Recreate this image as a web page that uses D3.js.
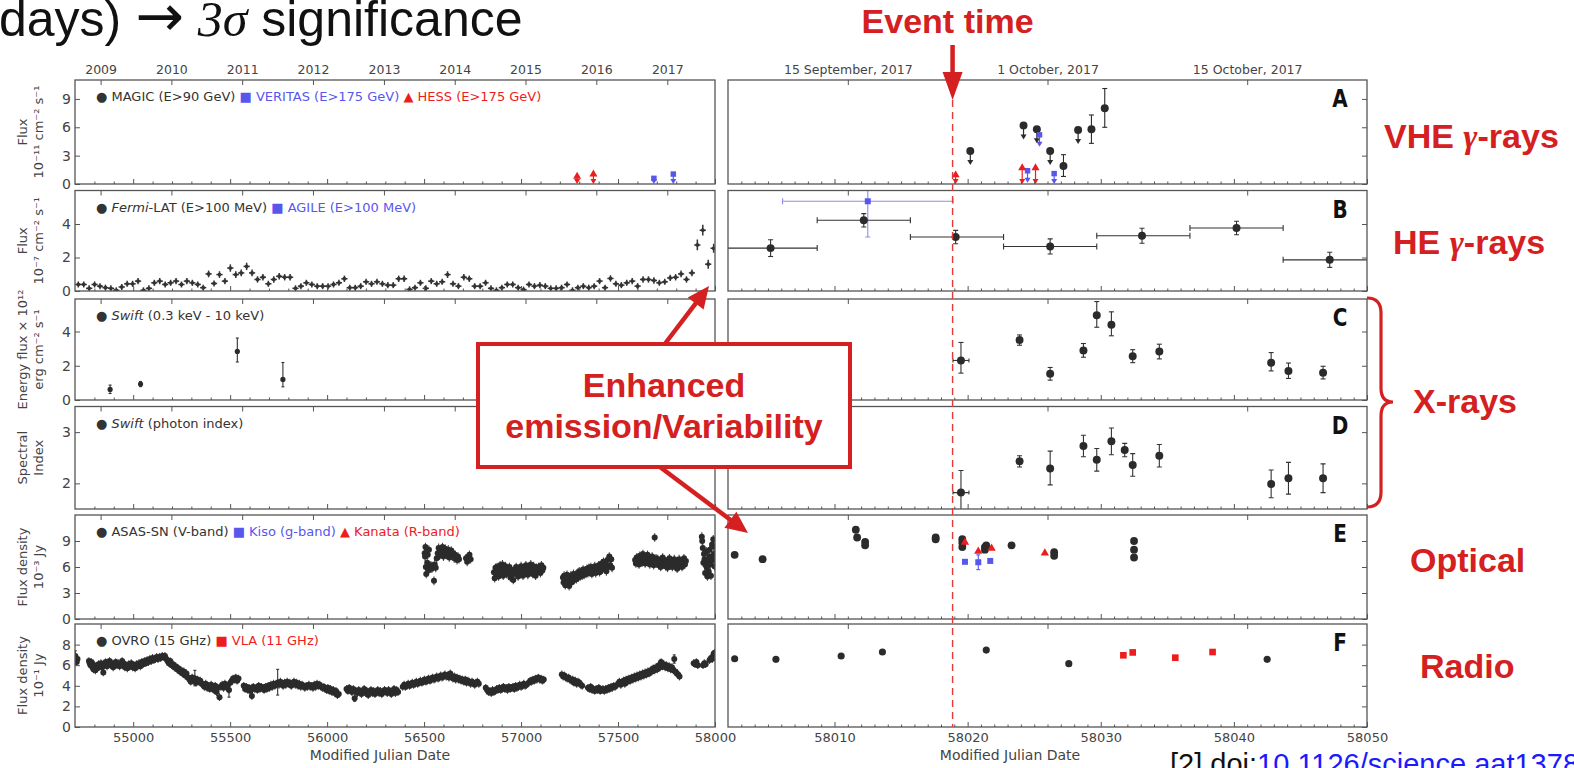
<!DOCTYPE html>
<html>
<head>
<meta charset="utf-8">
<style>
  body { margin: 0; background: #fff; }
  svg { display: block; font-family: "DejaVu Sans", sans-serif; }
</style>
</head>
<body>
<script src="https://cdnjs.cloudflare.com/ajax/libs/d3/7.8.5/d3.min.js"></script>
<script>
// ---------- tick labels / axis values ----------
const yearLabels = ["2009","2010","2011","2012","2013","2014","2015","2016","2017"];
const yearMjd = [54832,55197,55562,55927,56293,56658,57023,57388,57754];
const dateLabels = ["15 September, 2017","1 October, 2017","15 October, 2017"];
const dateMjd = [58011,58026,58041];
const leftMajor = [55000,55500,56000,56500,57000,57500,58000];
const rightMajor = [58010,58020,58030,58040,58050];
const eventMjd = 58018.87;

// ---------- A: VHE gamma rays ----------
// [mjd, flux]  upper limits
const magicUL = [[58020.2,3.5],[58024.2,6.2],[58025.2,5.8],[58026.2,3.5],[58028.3,5.7]];
// [mjd, flux, lo, hi]
const magicPts = [[58027.2,1.9,0.8,3.1],[58029.3,5.8,4.3,7.3],[58030.3,8.0,6.0,10.1]];
const veritasUL = [[57685,0.6],[57785,1.05],[58024.5,1.4],[58025.4,5.2],[58026.5,1.1]];
const hessUL = [[57289,0.8],[57373,1.05],[58019.1,0.95],[58024.1,1.7],[58025.1,1.7]];

// ---------- B: HE gamma rays ----------
const fermiMonthMjd = [54717,54745,54773,54801,54829,54857,54885,54913,54941,54969,
  54997,55025,55053,55081,55109,55137,55165,55193,55221,55249,
  55277,55305,55333,55361,55389,55417,55445,55473,55501,55529,
  55557,55585,55613,55641,55669,55697,55725,55753,55781,55809,
  55837,55865,55893,55921,55949,55977,56005,56033,56061,56089,
  56117,56145,56173,56201,56229,56257,56285,56313,56341,56369,
  56397,56425,56453,56481,56509,56537,56565,56593,56621,56649,
  56677,56705,56733,56761,56789,56817,56845,56873,56901,56929,
  56957,56985,57013,57041,57069,57097,57125,57153,57181,57209,
  57237,57265,57293,57321,57349,57377,57405,57433,57461,57489,
  57517,57545,57573,57601,57629,57657,57685,57713,57741,57769,
  57797,57825,57853,57881,57909,57937,57965,57993];
const fermiMonthFlux = [0.39,0.39,0.16,0.39,0.29,0.2,0.16,0.04,0.24,0.43,
  0.43,0.59,0.04,0.16,0.49,0.59,0.39,0.49,0.59,0.39,
  0.59,0.49,0.39,0.2,1.02,0.45,0.98,0.59,1.37,0.98,
  1.08,1.47,1.08,0.69,0.82,0.43,0.69,0.88,0.82,0.82,
  0.16,0.29,0.49,0.39,0.29,0.29,0.29,0.39,0.49,0.73,
  0.2,0.2,0.29,0.55,0.43,0.55,0.43,0.35,0.35,0.73,
  0.73,0.1,0.2,0.49,0.16,0.59,0.43,0.55,0.98,0.43,
  0.29,0.82,0.73,0.29,0.29,0.49,0.16,0.04,0.2,0.39,
  0.39,0.2,0.08,0.39,0.29,0.35,0.29,0.16,0.16,0.2,
  0.39,0.04,0.2,0.29,0.2,0.29,0.59,0.2,0.75,0.43,
  0.35,0.49,0.59,0.29,0.69,0.69,0.63,0.49,0.55,0.78,
  0.82,1.02,0.69,1.08,2.75,3.63,1.6,2.55];
const fermiMonthErr = [0.18,0.18,0.18,0.18,0.18,0.18,0.18,0.18,0.18,0.18,
  0.18,0.18,0.18,0.18,0.18,0.18,0.18,0.18,0.18,0.18,
  0.18,0.18,0.18,0.18,0.2,0.18,0.2,0.18,0.22,0.2,
  0.2,0.22,0.2,0.19,0.19,0.18,0.19,0.19,0.19,0.19,
  0.18,0.18,0.18,0.18,0.18,0.18,0.18,0.18,0.18,0.19,
  0.18,0.18,0.18,0.18,0.18,0.18,0.18,0.18,0.18,0.19,
  0.19,0.18,0.18,0.18,0.18,0.18,0.18,0.18,0.2,0.18,
  0.18,0.19,0.19,0.18,0.18,0.18,0.18,0.18,0.18,0.18,
  0.18,0.18,0.18,0.18,0.18,0.18,0.18,0.18,0.18,0.18,
  0.18,0.18,0.18,0.18,0.18,0.18,0.18,0.18,0.19,0.18,
  0.18,0.18,0.18,0.18,0.19,0.19,0.19,0.18,0.18,0.19,
  0.19,0.2,0.19,0.2,0.32,0.32,0.27,0.27];
// [mjd, flux, binStart, binEnd, err]
const fermiWeek = [[58005.2,2.56,58001.7,58008.7,0.5],[58012.2,4.22,58008.7,58015.7,0.4],
  [58019.1,3.22,58015.7,58022.7,0.4],[58026.2,2.66,58022.7,58029.7,0.45],
  [58033.1,3.3,58029.7,58036.7,0.45],[58040.2,3.76,58036.7,58043.7,0.4],
  [58047.2,1.86,58043.7,58050.7,0.45]];
// [mjd, flux, binStart, binEnd, lo, hi]
const agile = [[58012.5,5.36,58006.1,58018.9,3.22,7.5]];

// ---------- C, D: X-rays ----------
const swiftFluxLeft = [[54881,0.62,0.38,0.87],[55038,0.93,0.78,1.08],[55537,2.84,2.22,3.62],[55772,1.2,0.77,2.19]];
const swiftFluxRight = [[58019.5,2.31,1.57,3.36],[58023.9,3.5,3.2,3.8],[58026.2,1.53,1.16,1.9],
  [58028.7,2.89,2.5,3.3],[58029.7,4.95,4.25,5.75],[58030.8,4.39,3.75,5.15],[58032.4,2.56,2.18,2.94],
  [58034.4,2.83,2.4,3.26],[58042.8,2.17,1.7,2.77],[58044.1,1.69,1.26,2.16],[58046.7,1.59,1.23,1.97]];
const swiftIndex = [[58019.5,1.82,1.49,2.25],[58023.9,2.43,2.32,2.54],[58026.2,2.29,1.97,2.63],
  [58028.7,2.73,2.52,2.94],[58029.7,2.46,2.24,2.68],[58030.8,2.82,2.56,3.08],[58031.8,2.65,2.52,2.78],
  [58032.4,2.36,2.14,2.58],[58034.4,2.54,2.32,2.76],[58042.8,1.99,1.72,2.26],[58044.1,2.1,1.79,2.41],
  [58046.7,2.1,1.82,2.38]];

// ---------- E: optical ----------
const asasSeason1 = [[56503,7.6],[56505,7.2],[56507,8.3],[56509,6.0],[56511,5.2],[56513,7.8],[56516,6.5],[56519,7.4],
  [56522,5.6],[56525,8.0],[56530,5.9],[56535,6.2],[56540,5.8],[56545,6.1],[56551,4.4],[56555,6.3],[56560,5.9],
  [56565,7.0],[56570,7.6],[56575,8.2],[56580,7.3],[56585,7.9],[56590,7.5],[56595,8.3],[56600,7.2],[56605,7.8],
  [56610,8.1],[56615,7.4],[56620,7.7],[56625,8.0],[56630,7.1],[56635,7.6],[56640,7.9],[56645,7.3],[56650,7.6],
  [56655,7.0],[56660,7.4],[56665,7.1],[56670,6.8],[56675,7.2],[56680,6.9],[56716,7.0],[56722,6.6],[56728,7.2],
  [56734,7.4],[56740,6.9]];
const asasSeason2 = [[56860,5.4],[56864,4.7],[56868,5.9],[56872,5.2],[56876,6.0],[56880,5.5],[56884,4.9],[56888,5.8],
  [56892,6.2],[56896,5.3],[56900,5.7],[56904,6.3],[56908,5.0],[56912,5.9],[56916,5.5],[56920,6.1],[56925,5.2],
  [56930,5.8],[56935,5.4],[56940,6.0],[56945,4.8],[56950,5.6],[56955,5.1],[56960,4.5],[56965,5.7],[56970,5.3],
  [56975,6.0],[56980,5.5],[56985,4.9],[56990,5.8],[56995,5.2],[57000,6.1],[57005,5.6],[57010,5.0],[57015,5.9],
  [57020,5.4],[57025,6.2],[57030,5.7],[57035,5.1],[57040,6.0],[57045,5.5],[57050,6.3],[57055,5.8],[57060,5.2],
  [57065,6.1],[57070,5.6],[57075,5.0],[57080,5.9],[57085,5.4],[57090,6.0],[57095,5.7],[57100,5.3],[57105,6.2],
  [57110,5.6],[57115,5.9]];
const asasSeason3 = [[57216,4.8],[57219,4.2],[57222,5.0],[57225,4.5],[57228,3.9],[57231,4.7],[57234,4.3],[57237,5.1],
  [57240,4.1],[57244,4.6],[57248,3.8],[57252,4.4],[57256,5.0],[57260,4.2],[57265,4.7],[57270,5.2],[57275,4.5],
  [57280,5.0],[57285,4.6],[57290,5.3],[57295,4.8],[57300,5.5],[57305,4.9],[57310,5.4],[57315,5.0],[57320,5.7],
  [57325,5.1],[57330,5.6],[57335,5.2],[57340,5.8],[57345,5.3],[57350,5.9],[57355,5.4],[57360,6.0],[57365,5.2],
  [57370,5.8],[57375,5.5],[57380,6.1],[57385,5.3],[57390,5.9],[57395,5.6],[57400,6.2],[57405,5.4],[57410,6.0],
  [57415,6.4],[57420,5.7],[57425,6.6],[57430,5.8],[57435,6.3],[57440,5.5],[57445,6.8],[57450,6.0],[57455,7.2],
  [57460,6.2],[57465,6.9],[57469,5.9]];
const asasSeason4 = [[57588,6.8],[57592,6.4],[57596,7.1],[57600,6.6],[57604,6.9],[57608,6.3],[57612,7.3],[57616,6.7],
  [57620,7.0],[57624,6.5],[57628,7.5],[57632,6.8],[57636,7.2],[57640,6.4],[57644,7.0],[57648,6.7],[57652,7.4],
  [57656,6.6],[57660,7.1],[57664,6.3],[57668,6.9],[57672,6.5],[57676,7.2],[57680,6.8],[57684,6.2],[57689,9.4],
  [57692,6.7],[57696,7.0],[57700,6.4],[57705,6.9],[57710,6.2],[57715,6.7],[57720,6.0],[57725,6.6],[57730,7.1],
  [57735,6.3],[57740,6.8],[57745,6.1],[57750,6.6],[57755,5.9],[57760,6.5],[57765,7.0],[57770,6.2],[57775,6.7],
  [57780,6.0],[57785,6.5],[57790,6.9],[57795,6.1],[57800,6.6],[57805,5.8],[57810,6.4],[57815,6.9],[57820,6.2],
  [57825,6.6],[57830,6.0],[57835,6.5],[57840,7.0],[57845,6.3],[57850,6.7]];
const asasSeason5 = [[57932,9.5],[57934,9.0],[57937,8.2],[57940,6.5],[57943,7.5],[57946,6.9],[57949,5.3],[57952,6.2],
  [57955,7.8],[57958,5.9],[57961,4.9],[57964,6.6],[57967,5.5],[57970,7.2],[57973,8.0],[57976,6.3],[57979,5.0],
  [57982,7.0],[57985,8.6],[57988,6.8],[57991,9.2],[57994,7.5],[57997,6.1],[57999,8.3]];
const asasRight = [[58002.5,7.4],[58004.6,6.9],[58011.6,10.3],[58011.7,9.4],[58012.3,8.9],[58012.3,8.5],
  [58017.6,9.4],[58017.6,9.2],[58019.6,9.2],[58019.6,8.8],[58019.6,8.3],[58021.3,8.3],[58021.3,8.0],
  [58021.4,8.5],[58023.3,8.5],[58026.5,7.7],[58026.5,7.3],[58032.5,9.0],[58032.5,8.0],[58032.5,7.1]];
const kanata = [[58019.8,8.85],[58020.8,7.8],[58021.8,8.15],[58025.8,7.6]];
const kiso = [[58019.8,6.6,6.4,6.8],[58020.8,6.55,5.7,7.4],[58021.7,6.7,6.5,6.9]];

// ---------- F: radio ----------
const ovro2008to2011 = [[54702,6.9],[54705,6.5],[54709,6.3],[54713,6.6],
  [54772,6.4],[54776,6.2],[54780,6.0],[54785,6.3],[54790,5.8],[54795,5.6],[54800,6.0],[54805,5.5],[54810,5.9],
  [54816,5.7],[54821,6.1],[54828,5.9],[54834,6.2],[54840,5.8],[54846,5.3],[54852,6.0],[54858,6.3],[54865,5.9],
  [54871,6.1],[54878,6.4],[54884,6.0],[54890,6.2],[54897,5.8],[54903,6.1],[54910,6.3],[54916,6.0],[54923,6.2],
  [54930,5.9],[54936,6.1],[54943,6.4],[54950,6.2],[54957,5.8],[54963,6.0],[54970,5.7],[54977,6.1],[54984,5.9],
  [54990,6.2],[54997,5.8],[55004,6.0],[55010,5.7],[55017,6.1],[55024,5.9],[55030,6.2],[55037,5.9],[55044,6.3],
  [55051,6.1],[55058,6.4],[55065,6.2],[55072,6.5],[55079,6.3],[55086,6.6],[55093,6.4],[55100,6.7],[55107,6.5],
  [55114,6.6],[55121,6.8],[55128,6.6],[55135,6.8],[55142,6.7],[55150,6.9],[55157,6.8],[55164,6.9],[55171,6.6],
  [55177,6.4],[55184,6.2],[55191,6.4],[55198,6.0],[55205,6.1],[55212,5.8],[55219,5.9],[55226,5.6],[55233,5.7],
  [55240,5.4],[55247,5.5],[55254,5.2],[55261,5.4],[55268,5.0],[55275,5.2],[55282,4.8],[55290,4.6],[55297,4.4],
  [55304,4.8],[55311,4.5],[55318,4.7],[55325,4.3],[55332,4.6],[55339,4.4],[55346,4.5],[55353,4.2],[55360,4.1],
  [55367,3.9],[55374,4.2],[55381,3.8],[55388,4.0],[55395,3.7],[55402,4.1],[55409,3.9],[55416,3.6],[55423,4.0],
  [55430,3.4],[55437,3.8],[55445,2.9],[55452,3.9],[55459,4.1],[55466,3.8],[55473,4.2],[55480,3.9],[55487,4.0],
  [55494,3.6],[55501,4.3],[55508,4.5],[55515,4.7],[55522,4.6],[55529,4.8],[55536,4.5],[55543,4.7],
  [55570,4.0],[55577,3.7],[55584,3.9],[55591,3.6],[55598,3.8],[55605,3.5],[55612,3.0],[55619,3.9],[55626,3.7],
  [55633,3.8],[55640,3.6],[55647,4.0],[55654,3.7],[55661,3.9],[55668,3.8],[55675,3.6],[55682,3.9],[55689,3.7],
  [55696,4.0],[55703,3.8],[55710,4.1],[55717,3.9],[55724,4.2],[55731,4.0],[55738,4.2],[55745,4.3],[55752,4.1],
  [55759,4.4],[55766,4.2],[55773,4.0],[55780,4.3],[55787,4.1],[55794,4.4],[55801,4.2],[55808,4.3],[55815,4.0],
  [55822,4.2],[55829,4.4],[55836,4.1],[55843,4.3],[55850,4.0],[55857,4.2],[55864,3.9],[55871,4.1],[55878,4.0],
  [55885,3.8],[55892,4.0],[55899,3.9],[55906,4.1],[55913,3.9],[55920,4.0]];
const ovro2012to2014 = [[55927,3.8],[55934,4.1],[55941,3.9],[55948,4.2],[55955,4.0],[55962,4.1],[55969,3.9],
  [55976,3.8],[55983,3.9],[55990,3.7],[55997,3.6],[56004,3.8],[56011,3.5],[56018,3.7],[56025,3.4],[56032,3.6],
  [56039,3.3],[56046,3.5],[56053,3.1],[56060,3.2],
  [56100,3.7],[56107,3.5],[56114,3.8],[56121,3.6],[56128,3.4],[56135,3.7],[56142,2.8],[56149,3.5],[56156,3.3],
  [56163,3.6],[56170,3.4],[56177,3.2],[56184,3.5],[56191,3.7],[56198,3.3],[56205,3.5],[56212,3.1],[56219,3.4],
  [56226,3.6],[56233,3.3],[56240,3.5],[56247,3.2],[56254,3.4],[56261,3.6],[56268,3.3],[56275,3.5],[56282,3.2],
  [56289,3.4],[56296,3.6],[56303,3.5],[56310,3.3],[56317,3.6],[56324,3.4],[56331,3.2],[56338,3.5],[56345,3.7],
  [56352,3.3],[56359,3.6],[56366,3.4],
  [56390,3.9],[56397,4.1],[56404,3.9],[56411,4.0],[56418,4.2],[56425,4.0],[56432,4.1],[56439,4.3],[56446,4.1],
  [56453,4.2],[56460,4.4],[56467,4.2],[56474,4.3],[56481,4.5],[56488,4.3],[56495,4.4],[56502,4.6],[56509,4.4],
  [56516,4.5],[56523,4.7],[56530,4.5],[56537,4.6],[56544,4.8],[56551,4.6],[56558,4.7],[56565,4.9],[56572,4.7],
  [56579,4.8],[56586,5.0],[56593,4.8],[56600,4.9],[56607,5.1],[56614,4.9],[56621,5.0],[56628,4.8],[56635,5.2],
  [56642,4.9],[56649,4.7],[56656,4.9],[56663,4.6],[56670,4.8],[56677,4.6],[56684,4.7],[56691,4.5],[56698,4.6],
  [56705,4.4],[56712,4.6],[56719,4.3],[56726,4.5],[56733,4.4],[56740,4.2],[56747,4.4],[56754,4.3],[56761,4.1],
  [56768,4.3],[56775,4.4],[56782,4.2]];
const ovro2015to2017 = [[56818,3.8],[56825,3.6],[56832,3.4],[56839,3.5],[56846,3.3],[56853,3.6],[56860,3.4],
  [56867,3.5],[56874,3.7],[56881,3.6],[56888,3.8],[56895,3.6],[56902,3.7],[56909,3.9],[56916,3.7],[56923,3.8],
  [56930,3.6],[56937,3.9],[56944,3.7],[56951,3.8],[56958,3.9],[56965,3.7],[56972,4.0],[56979,3.8],[56986,3.9],
  [56993,4.1],[57000,3.9],[57007,4.0],[57014,4.2],[57021,4.0],[57028,4.1],[57040,4.3],[57047,4.5],[57054,4.4],
  [57061,4.6],[57068,4.5],[57075,4.7],[57082,4.6],[57089,4.8],[57096,4.6],[57103,4.7],[57110,4.5],[57117,4.6],
  [57210,5.1],[57217,4.9],[57224,5.0],[57231,4.8],[57238,4.7],[57245,4.8],[57252,4.6],[57259,4.5],[57266,4.6],
  [57273,4.3],[57280,4.5],[57287,4.2],[57294,4.4],[57301,4.3],[57308,4.1],[57315,4.0],
  [57345,3.8],[57352,3.7],[57359,3.9],[57366,3.6],[57373,3.7],[57380,3.5],[57387,3.7],[57394,3.6],[57401,3.8],
  [57408,3.5],[57415,3.6],[57422,3.7],[57429,3.5],[57436,3.7],[57443,3.6],[57450,3.8],[57457,3.7],[57464,3.9],
  [57471,3.8],[57478,4.0],[57485,3.9],[57500,4.2],[57507,4.4],[57514,4.1],[57521,4.3],[57528,4.5],[57535,4.2],
  [57542,4.6],[57549,4.4],[57556,4.7],[57563,4.5],[57570,4.8],[57577,4.6],[57584,4.9],[57591,4.7],[57598,5.0],
  [57605,4.8],[57612,5.1],[57619,4.9],[57626,5.2],[57633,5.0],[57640,5.3],[57647,5.1],[57654,5.4],[57661,5.2],
  [57668,5.5],[57675,5.4],[57682,5.7],[57689,5.5],[57696,5.8],[57703,5.6],[57710,6.0],[57717,5.8],[57722,6.3],
  [57729,5.9],[57736,6.1],[57743,5.8],[57750,6.0],[57757,5.7],[57764,5.9],[57771,5.6],[57778,5.8],[57785,5.5],
  [57790,6.6],[57796,5.4],[57803,5.2],[57810,5.1],[57817,4.9],
  [57890,6.2],[57897,6.1],[57904,6.3],[57911,6.0],[57938,6.0],[57945,6.2],[57952,6.1],
  [57972,6.5],[57979,6.7],[57986,6.6],[57993,7.1],[57998,7.2]];
// [mjd, flux, lo, hi] larger OVRO error bars
const ovroBigErr = [[54702,6.9,6.3,7.4],[55318,4.7,4.0,5.5],[55494,3.6,2.9,4.3],[55745,4.3,3.1,5.6],
  [56142,2.8,2.5,3.3],[57790,6.6,6.2,7.0]];
const ovroRight = [[58002.5,6.63],[58005.6,6.57],[58010.5,6.89],[58013.6,7.28],[58021.4,7.47],[58027.6,6.15],[58042.5,6.57]];
const vla = [[58031.7,6.96],[58032.4,7.24],[58035.6,6.73],[58038.4,7.28]];

// ---------- layout ----------
const W = 1574, H = 768;
const BLACK = "#2b2b2b", BLUE = "#5757ee", RED = "#ee1c1c", ANN = "#d42020";
const svg = d3.select("body").append("svg").attr("width", W).attr("height", H);

const xL = d3.scaleLinear().domain([54700, 58000]).range([75, 715]);
const xR = d3.scaleLinear().domain([58002, 58050]).range([728, 1367]);

const panels = [
  {key: "A", top: 80, bottom: 184, dom: [0, 11], ticks: [0, 3, 6, 9], lab: ["Flux", "10\u207B\u00B9\u00B9 cm\u207B\u00B2 s\u207B\u00B9"]},
  {key: "B", top: 190.5, bottom: 291, dom: [0, 6], ticks: [0, 2, 4], lab: ["Flux", "10\u207B\u2077 cm\u207B\u00B2 s\u207B\u00B9"]},
  {key: "C", top: 299, bottom: 400, dom: [0, 5.9], ticks: [0, 2, 4], lab: ["Energy flux \u00D7 10\u00B9\u00B2", "erg cm\u207B\u00B2 s\u207B\u00B9"]},
  {key: "D", top: 406.5, bottom: 509, dom: [1.5, 3.5], ticks: [2, 3], lab: ["Spectral", "Index"]},
  {key: "E", top: 515, bottom: 619, dom: [0, 12], ticks: [0, 3, 6, 9], lab: ["Flux density", "10\u207B\u00B3 Jy"]},
  {key: "F", top: 624, bottom: 727, dom: [0, 10], ticks: [0, 2, 4, 6, 8], lab: ["Flux density", "10\u207B\u00B9 Jy"]}
];
panels.forEach(p => { p.y = d3.scaleLinear().domain(p.dom).range([p.bottom, p.top]); });
const P = Object.fromEntries(panels.map(p => [p.key, p]));

const defs = svg.append("defs");
const gPanels = svg.append("g");

function styleAxis(g, size) {
  g.select(".domain").remove();
  g.selectAll(".tick line").attr("stroke", "#555").attr("stroke-width", 1);
  g.selectAll(".tick text").attr("fill", "#444").attr("font-size", size || 12.5).attr("font-family", "DejaVu Sans");
}

// per panel layers (clipped data groups)
panels.forEach(p => {
  ["L", "R"].forEach(side => {
    const x0 = side === "L" ? 75 : 728, x1 = side === "L" ? 715 : 1367;
    defs.append("clipPath").attr("id", "clip" + p.key + side)
      .append("rect").attr("x", x0).attr("y", p.top).attr("width", x1 - x0).attr("height", p.bottom - p.top);
    p["g" + side] = gPanels.append("g").attr("clip-path", `url(#clip${p.key}${side})`);
  });
});

// ---------- drawing helpers ----------
function errV(g, x, y1, y2, color, cap, w) {
  g.append("line").attr("x1", x).attr("x2", x).attr("y1", y1).attr("y2", y2).attr("stroke", color).attr("stroke-width", w || 1.1);
  if (cap) {
    [y1, y2].forEach(yy => g.append("line").attr("x1", x - cap).attr("x2", x + cap).attr("y1", yy).attr("y2", yy)
      .attr("stroke", color).attr("stroke-width", 1.1));
  }
}
function errH(g, x1, x2, y, color, cap, w) {
  g.append("line").attr("x1", x1).attr("x2", x2).attr("y1", y).attr("y2", y).attr("stroke", color).attr("stroke-width", w || 1.1);
  if (cap) {
    [x1, x2].forEach(xx => g.append("line").attr("x1", xx).attr("x2", xx).attr("y1", y - cap).attr("y2", y + cap)
      .attr("stroke", color).attr("stroke-width", 1.1));
  }
}
function marker(g, type, x, y, size, color) {
  g.append("path").attr("d", d3.symbol().type(type).size(size)()).attr("transform", `translate(${x},${y})`).attr("fill", color);
}
function upperLimit(g, x, y, len, floor, color) {
  const end = Math.min(y + len, floor);
  g.append("line").attr("x1", x).attr("x2", x).attr("y1", y).attr("y2", end - 3).attr("stroke", color).attr("stroke-width", 1.2);
  g.append("path").attr("d", `M${x - 3},${end - 5}L${x + 3},${end - 5}L${x},${end}Z`).attr("fill", color);
}

// ---------- A ----------
(function () {
  const p = P.A;
  magicUL.forEach(d => { upperLimit(p.gR, xR(d[0]), p.y(d[1]), 14, p.bottom, BLACK); marker(p.gR, d3.symbolCircle, xR(d[0]), p.y(d[1]), 50, BLACK); });
  magicPts.forEach(d => { errV(p.gR, xR(d[0]), p.y(d[2]), p.y(d[3]), BLACK, 2.5); marker(p.gR, d3.symbolCircle, xR(d[0]), p.y(d[1]), 50, BLACK); });
  veritasUL.forEach(d => {
    const g = d[0] < 58000 ? p.gL : p.gR, x = (d[0] < 58000 ? xL : xR)(d[0]);
    upperLimit(g, x, p.y(d[1]), 12, p.bottom, BLUE); marker(g, d3.symbolSquare, x, p.y(d[1]), 30, BLUE);
  });
  hessUL.forEach(d => {
    const g = d[0] < 58000 ? p.gL : p.gR, x = (d[0] < 58000 ? xL : xR)(d[0]);
    upperLimit(g, x, p.y(d[1]), 30, p.bottom, RED); marker(g, d3.symbolTriangle, x, p.y(d[1]), 28, RED);
  });
})();

// ---------- B ----------
(function () {
  const p = P.B;
  fermiMonthMjd.forEach((t, i) => {
    const f = fermiMonthFlux[i], e = fermiMonthErr[i];
    errH(p.gL, xL(t - 16), xL(t + 16), p.y(f), "#333", 0, 1.5);
    errV(p.gL, xL(t), p.y(f - e), p.y(f + e), "#333", 0, 1.5);
    p.gL.append("circle").attr("cx", xL(t)).attr("cy", p.y(f)).attr("r", 1.9).attr("fill", "#333");
  });
  agile.forEach(d => {
    errH(p.gR, xR(d[2]), xR(d[3]), p.y(d[1]), "#8c8cf0", 3);
    errV(p.gR, xR(d[0]), p.y(d[4]), p.y(d[5]), "#8c8cf0", 2.5);
    marker(p.gR, d3.symbolSquare, xR(d[0]), p.y(d[1]), 36, BLUE);
  });
  fermiWeek.forEach(d => {
    errH(p.gR, xR(d[2]), xR(d[3]), p.y(d[1]), "#333", 3);
    errV(p.gR, xR(d[0]), p.y(d[1] - d[4]), p.y(d[1] + d[4]), "#333", 2.5);
    marker(p.gR, d3.symbolCircle, xR(d[0]), p.y(d[1]), 50, BLACK);
  });
})();

// ---------- C, D ----------
(function () {
  const p = P.C;
  swiftFluxLeft.forEach(d => { errV(p.gL, xL(d[0]), p.y(d[2]), p.y(d[3]), "#333", 1.5); p.gL.append("circle").attr("cx", xL(d[0])).attr("cy", p.y(d[1])).attr("r", 2.6).attr("fill", BLACK); });
  swiftFluxRight.forEach((d, i) => {
    if (i === 0) errH(p.gR, xR(d[0] - 0.6), xR(d[0] + 0.6), p.y(d[1]), "#333", 2);
    errV(p.gR, xR(d[0]), p.y(d[2]), p.y(d[3]), "#333", 2.5);
    marker(p.gR, d3.symbolCircle, xR(d[0]), p.y(d[1]), 50, BLACK);
  });
  const q = P.D;
  swiftIndex.forEach((d, i) => {
    if (i === 0) errH(q.gR, xR(d[0] - 0.6), xR(d[0] + 0.6), q.y(d[1]), "#333", 2);
    errV(q.gR, xR(d[0]), q.y(d[2]), q.y(d[3]), "#333", 2.5);
    marker(q.gR, d3.symbolCircle, xR(d[0]), q.y(d[1]), 50, BLACK);
  });
})();

// ---------- E ----------
(function () {
  const p = P.E;
  [asasSeason1, asasSeason2, asasSeason3, asasSeason4, asasSeason5].forEach(season => {
    season.forEach(d => errV(p.gL, xL(d[0]), p.y(d[1] - 0.5), p.y(d[1] + 0.5), "#444", 0));
    season.forEach(d => p.gL.append("circle").attr("cx", xL(d[0])).attr("cy", p.y(d[1])).attr("r", 3).attr("fill", BLACK));
  });
  asasRight.forEach(d => marker(p.gR, d3.symbolCircle, xR(d[0]), p.y(d[1]), 48, BLACK));
  kanata.forEach(d => marker(p.gR, d3.symbolTriangle, xR(d[0]), p.y(d[1]), 30, RED));
  kiso.forEach(d => { errV(p.gR, xR(d[0]), p.y(d[2]), p.y(d[3]), BLUE, 2); marker(p.gR, d3.symbolSquare, xR(d[0]), p.y(d[1]), 36, BLUE); });
})();

// ---------- F ----------
(function () {
  const p = P.F;
  ovroBigErr.forEach(d => errV(p.gL, xL(d[0]), p.y(d[2]), p.y(d[3]), "#333", 1.5));
  [ovro2008to2011, ovro2012to2014, ovro2015to2017].forEach(arr => {
    arr.forEach(d => errV(p.gL, xL(d[0]), p.y(d[1] - 0.38), p.y(d[1] + 0.38), "#444", 0));
    arr.forEach(d => p.gL.append("circle").attr("cx", xL(d[0])).attr("cy", p.y(d[1])).attr("r", 3).attr("fill", BLACK));
  });
  ovroRight.forEach(d => marker(p.gR, d3.symbolCircle, xR(d[0]), p.y(d[1]), 40, BLACK));
  vla.forEach(d => marker(p.gR, d3.symbolSquare, xR(d[0]), p.y(d[1]), 44, RED));
})();

// ---------- axes and frames ----------
const leftMinor = d3.range(54800, 58000, 100).filter(v => v % 500 !== 0);
const rightMinor = d3.range(58003, 58050, 1).filter(v => v % 10 !== 0);
panels.forEach(p => {
  const last = p.key === "F", first = p.key === "A";
  // left panel
  gPanels.append("g").attr("transform", `translate(0,${p.bottom})`)
    .call(d3.axisBottom(xL).tickValues(leftMinor).tickSize(-2.5).tickFormat("")).call(styleAxis);
  gPanels.append("g").attr("transform", `translate(0,${p.bottom})`)
    .call(d3.axisBottom(xL).tickValues(leftMajor).tickSize(-5).tickPadding(6).tickFormat(last ? d3.format("d") : ""))
    .call(g => styleAxis(g, 13));
  gPanels.append("g").attr("transform", `translate(0,${p.top})`)
    .call(d3.axisTop(xL).tickValues(yearMjd).tickSize(-5).tickPadding(6).tickFormat((d, i) => first ? yearLabels[i] : ""))
    .call(g => styleAxis(g, 12.5));
  gPanels.append("g").attr("transform", "translate(75,0)")
    .call(d3.axisLeft(p.y).tickValues(p.ticks).tickSize(-5).tickPadding(4).tickFormat(d3.format("d")))
    .call(g => styleAxis(g, 14));
  // right panel
  gPanels.append("g").attr("transform", `translate(0,${p.bottom})`)
    .call(d3.axisBottom(xR).tickValues(rightMinor).tickSize(-2.5).tickFormat("")).call(styleAxis);
  gPanels.append("g").attr("transform", `translate(0,${p.bottom})`)
    .call(d3.axisBottom(xR).tickValues(rightMajor).tickSize(-5).tickPadding(6).tickFormat(last ? d3.format("d") : ""))
    .call(g => styleAxis(g, 13));
  gPanels.append("g").attr("transform", `translate(0,${p.top})`)
    .call(d3.axisTop(xR).tickValues(dateMjd).tickSize(-5).tickPadding(6).tickFormat((d, i) => first ? dateLabels[i] : ""))
    .call(g => styleAxis(g, 12.5));
  gPanels.append("g").attr("transform", "translate(1367,0)")
    .call(d3.axisRight(p.y).tickValues(p.ticks).tickSize(-5).tickFormat("")).call(styleAxis);
  // frames
  [[75, 715], [728, 1367]].forEach(([a, b]) => gPanels.append("rect").attr("x", a).attr("y", p.top)
    .attr("width", b - a).attr("height", p.bottom - p.top).attr("fill", "none").attr("stroke", "#555").attr("stroke-width", 1.3));
  // y labels
  const mid = (p.top + p.bottom) / 2;
  p.lab.forEach((t, i) => svg.append("text").attr("transform", `translate(${27 + i * 16},${mid}) rotate(-90)`)
    .attr("text-anchor", "middle").attr("font-size", 13).attr("fill", "#444").text(t));
  // panel letter
  svg.append("text").attr("transform", `translate(1340,${p.top + 27}) scale(0.8,1)`).attr("text-anchor", "middle")
    .attr("font-size", 25).attr("font-weight", "bold").attr("fill", "#111").text(p.key);
});
[380, 1010].forEach(cx => svg.append("text").attr("x", cx).attr("y", 760).attr("text-anchor", "middle")
  .attr("font-size", 14).attr("fill", "#444").text("Modified Julian Date"));

// ---------- legends ----------
function legend(p, parts) {
  const t = svg.append("text").attr("x", 96).attr("y", p.top + 21).attr("font-size", 13);
  parts.forEach(([s, c, st]) => t.append("tspan").attr("fill", c).attr("font-style", st || "normal").text(s));
}
legend(P.A, [["\u25CF ", "#333"], ["MAGIC (E>90 GeV) ", "#333"], ["\u25A0 VERITAS (E>175 GeV) ", BLUE], ["\u25B2 HESS (E>175 GeV)", RED]]);
legend(P.B, [["\u25CF ", "#333"], ["Fermi", "#333", "italic"], ["-LAT (E>100 MeV) ", "#333"], ["\u25A0 AGILE (E>100 MeV)", BLUE]]);
legend(P.C, [["\u25CF ", "#333"], ["Swift", "#333", "italic"], [" (0.3 keV - 10 keV)", "#333"]]);
legend(P.D, [["\u25CF ", "#333"], ["Swift", "#333", "italic"], [" (photon index)", "#333"]]);
legend(P.E, [["\u25CF ASAS-SN (V-band) ", "#333"], ["\u25A0 Kiso (g-band) ", BLUE], ["\u25B2 Kanata (R-band)", RED]]);
legend(P.F, [["\u25CF OVRO (15 GHz) ", "#333"], ["\u25A0 VLA (11 GHz)", RED]]);

// ---------- annotations ----------
const ann = svg.append("g").attr("font-family", "Liberation Sans, Arial, sans-serif");
const ex = xR(eventMjd);
ann.append("line").attr("x1", ex).attr("x2", ex).attr("y1", 100).attr("y2", P.F.bottom)
  .attr("stroke", "#e23a3a").attr("stroke-width", 1.4).attr("stroke-dasharray", "7,5");

function arrow(x1, y1, x2, y2, hl, hw) {
  const dx = x2 - x1, dy = y2 - y1, L = Math.hypot(dx, dy), ux = dx / L, uy = dy / L;
  const bx = x2 - ux * hl, by = y2 - uy * hl;
  ann.append("line").attr("x1", x1).attr("y1", y1).attr("x2", bx + ux * 2).attr("y2", by + uy * 2)
    .attr("stroke", ANN).attr("stroke-width", 4.5);
  ann.append("path").attr("d", `M${x2},${y2}L${bx - uy * hw / 2},${by + ux * hw / 2}L${bx + uy * hw / 2},${by - ux * hw / 2}Z`).attr("fill", ANN);
}
arrow(ex, 45, ex, 100, 28, 20);
ann.append("text").attr("x", ex - 5).attr("y", 33).attr("text-anchor", "middle").attr("font-size", 34)
  .attr("font-weight", "bold").attr("fill", ANN).text("Event time");

arrow(664, 345, 709, 286, 22, 20);
arrow(660, 467, 748, 533, 22, 20);
ann.append("rect").attr("x", 478).attr("y", 344).attr("width", 372).attr("height", 123)
  .attr("fill", "#fff").attr("stroke", ANN).attr("stroke-width", 4);
ann.append("text").attr("x", 664).attr("y", 397).attr("text-anchor", "middle").attr("font-size", 34)
  .attr("font-weight", "bold").attr("fill", ANN).text("Enhanced");
ann.append("text").attr("x", 664).attr("y", 438).attr("text-anchor", "middle").attr("font-size", 34)
  .attr("font-weight", "bold").attr("fill", ANN).text("emission/Variability");

// band labels
[["VHE ", "\u03B3", "-rays", 1384, 148], ["HE ", "\u03B3", "-rays", 1393, 254], ["X-rays", "", "", 1413, 413],
 ["Optical", "", "", 1410, 572], ["Radio", "", "", 1420, 678]].forEach(([a, g, b, x, y]) => {
  const t = ann.append("text").attr("x", x).attr("y", y).attr("font-size", 34).attr("font-weight", "bold").attr("fill", ANN);
  t.append("tspan").text(a);
  if (g) { t.append("tspan").attr("font-style", "italic").attr("font-family", "Liberation Serif, serif").text(g); t.append("tspan").text(b); }
});
ann.append("path").attr("d", "M1367,298 Q1381,298 1381,313 L1381,388 Q1381,402 1393,402 Q1381,402 1381,416 L1381,492 Q1381,507 1367,507")
  .attr("fill", "none").attr("stroke", ANN).attr("stroke-width", 3.2);

// slide text fragments
const slideText = ann.append("text").attr("x", -1).attr("y", 36).attr("font-size", 50).attr("fill", "#111");
slideText.append("tspan").text("days) ");
slideText.append("tspan").attr("font-family", "DejaVu Sans").attr("font-size", 58).text("\u2192");
slideText.append("tspan").text(" ");
slideText.append("tspan").attr("font-family", "Liberation Serif, serif").attr("font-style", "italic").text("3\u03C3");
slideText.append("tspan").text(" significance");
const refText = ann.append("text").attr("x", 1170).attr("y", 774).attr("font-size", 29).attr("fill", "#111");
refText.append("tspan").text("[2] doi:");
refText.append("tspan").attr("fill", "#1a1aff").text("10.1126/science.aat1378");
</script>
</body>
</html>
